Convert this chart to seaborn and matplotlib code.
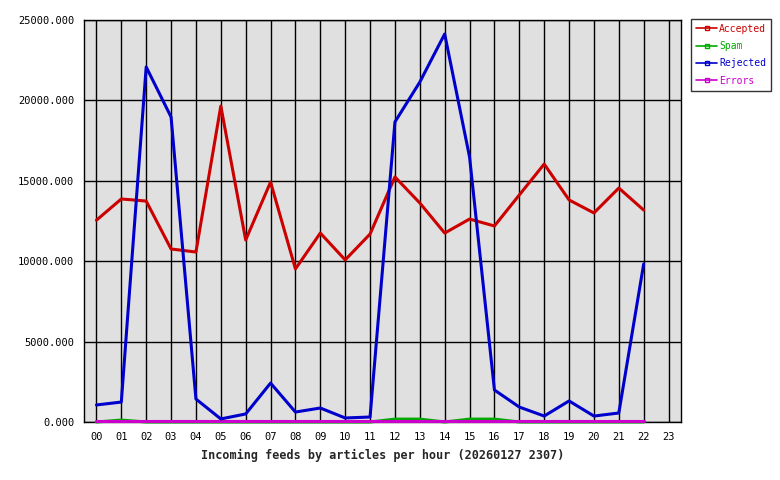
import seaborn as sns
import matplotlib.pyplot as plt
import pandas as pd
import numpy as np

# hours with data (00..22), axis shows 00..23
hours = list(range(23))
hour_labels = ["%02d" % h for h in range(24)]

accepted = [12550, 13870, 13740, 10760, 10570, 19650, 11320, 14920, 9520, 11750,
            10080, 11690, 15240, 13620, 11750, 12620, 12190, 14120, 16040, 13810,
            13000, 14550, 13180]
spam = [0, 120, 0, 0, 0, 0, 0, 0, 0, 0,
        0, 0, 180, 180, 0, 180, 180, 0, 0, 0,
        0, 0, 0]
rejected = [1060, 1240, 22080, 18970, 1430, 190, 500, 2420, 620, 870,
            250, 310, 18660, 21140, 24130, 16480, 1990, 930, 370, 1310,
            370, 560, 9830]
errors = [60, 60, 60, 60, 60, 60, 60, 60, 60, 60,
          60, 60, 60, 60, 60, 60, 60, 60, 60, 60,
          60, 60, 60]

series = ["Accepted", "Spam", "Rejected", "Errors"]
colors = {"Accepted": "#cc0000", "Spam": "#00aa00",
          "Rejected": "#0000cc", "Errors": "#cc00cc"}

df = pd.DataFrame({"hour": hours, "Accepted": accepted, "Spam": spam,
                   "Rejected": rejected, "Errors": errors})
long = df.melt(id_vars="hour", var_name="series", value_name="articles")

sns.set_style("white")
plt.rcParams["font.family"] = ["DejaVu Sans Mono"]

fig = plt.figure(figsize=(7.8, 4.8), dpi=100)
ax = fig.add_axes([84 / 780, 58 / 480, 597 / 780, 402 / 480])
ax.set_facecolor("#e0e0e0")

# draw small series first so big ones sit on top, errors above spam
order = ["Spam", "Errors", "Accepted", "Rejected"]
for i, name in enumerate(order):
    sub = long[long["series"] == name]
    sns.lineplot(data=sub, x="hour", y="articles", color=colors[name],
                 linewidth=2.2, ax=ax, legend=False, zorder=3 + i,
                 clip_on=False)

ax.set_xlim(-0.5, 23.5)
ax.set_ylim(0, 25000)
ax.set_xticks(range(24))
ax.set_xticklabels(hour_labels, fontsize=7.5)
ax.set_yticks(np.arange(0, 25001, 5000))
ax.set_yticklabels(["%.3f" % v for v in np.arange(0, 25001, 5000)], fontsize=7.5)
ax.grid(True, color="black", linewidth=1.0, zorder=1)
ax.set_axisbelow(True)
for s in ax.spines.values():
    s.set_color("black")
    s.set_linewidth(1.0)
ax.tick_params(axis="both", direction="out", length=4, width=1, color="black",
               labelcolor="black", pad=3)
ax.set_ylabel("")
ax.set_xlabel("Incoming feeds by articles per hour (20260127 2307)",
              fontsize=8.5, fontweight="bold", labelpad=5)

handles = []
for n in series:
    h = plt.Line2D([0, 0.5, 1], [0, 0, 0], color=colors[n], linewidth=1.2,
                   marker="s", markersize=2.5, markevery=[1],
                   markerfacecolor="none", markeredgecolor=colors[n])
    handles.append(h)
leg = fig.legend(handles, series, loc="upper left",
                 bbox_to_anchor=(691 / 780, 1 - 19 / 480),
                 fontsize=7, frameon=True, fancybox=False, edgecolor="black",
                 borderpad=0.5, labelspacing=0.75, handlelength=2.2,
                 handletextpad=0.2, borderaxespad=0)
leg.get_frame().set_linewidth(1.0)
for t, n in zip(leg.get_texts(), series):
    t.set_color(colors[n])

fig.savefig("out.png", dpi=100)
